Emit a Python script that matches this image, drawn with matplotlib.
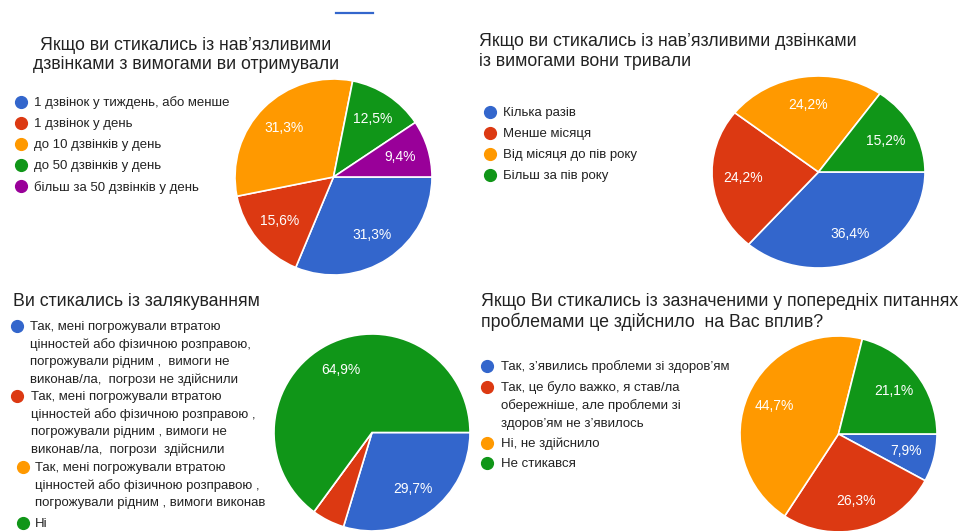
import matplotlib.pyplot as plt
from matplotlib.lines import Line2D

plt.rcParams['font.family'] = ['Liberation Sans', 'DejaVu Sans']

W, H = 968, 531
BLUE, RED, ORANGE, GREEN, PURPLE = '#3366cc', '#dc3912', '#ff9900', '#109618', '#990099'

# chart 1
calls_title = ['Якщо ви стикались із нав’язливими', 'дзвінками з вимогами ви отримували']
calls_labels = ['1 дзвінок у тиждень, або менше', '1 дзвінок у день', 'до 10 дзвінків у день',
                'до 50 дзвінків у день', 'більш за 50 дзвінків у день']
calls_pct = [31.3, 15.6, 31.3, 12.5, 9.4]
calls_colors = [BLUE, RED, ORANGE, GREEN, PURPLE]

# chart 2
dur_title = ['Якщо ви стикались із нав’язливими дзвінками', 'із вимогами вони тривали']
dur_labels = ['Кілька разів', 'Менше місяця', 'Від місяця до пів року', 'Більш за пів року']
dur_pct = [36.4, 24.2, 24.2, 15.2]
dur_colors = [BLUE, RED, ORANGE, GREEN]

# chart 3
threat_title = 'Ви стикались із залякуванням'
threat_labels = [
    ['Так, мені погрожували втратою', 'цінностей або фізичною розправою,',
     'погрожували рідним ,  вимоги не', 'виконав/ла,  погрози не здійснили'],
    ['Так, мені погрожували втратою', 'цінностей або фізичною розправою ,',
     'погрожували рідним , вимоги не', 'виконав/ла,  погрози  здійснили'],
    ['Так, мені погрожували втратою', 'цінностей або фізичною розправою ,',
     'погрожували рідним , вимоги виконав'],
    ['Ні'],
]
threat_pct = [29.7, 5.4, 0.0, 64.9]
threat_colors = [BLUE, RED, ORANGE, GREEN]

# chart 4
impact_title = ['Якщо Ви стикались із зазначеними у попередніх питаннях',
                'проблемами це здійснило  на Вас вплив?']
impact_labels = [
    ['Так, з’явились проблеми зі здоров’ям'],
    ['Так, це було важко, я став/ла', 'обережніше, але проблеми зі', 'здоров’ям не з’явилось'],
    ['Ні, не здійснило'],
    ['Не стикався'],
]
impact_pct = [7.9, 26.3, 44.7, 21.1]
impact_colors = [BLUE, RED, ORANGE, GREEN]

fig = plt.figure(figsize=(W / 100, H / 100), dpi=100)
ov = fig.add_axes([0, 0, 1, 1])
ov.set_xlim(0, W)
ov.set_ylim(H, 0)
ov.axis('off')

TITLE_FS = 12.8
LEG_FS = 9.55
PCT_FS = 10
TXT = '#222222'


def pie(box, pct, colors, min_label=6):
    l, t, r, b = box
    ax = fig.add_axes([l / W, 1 - b / H, (r - l) / W, (b - t) / H])
    labels = iter([f'{p:.1f}%'.replace('.', ',') if p >= min_label else '' for p in pct])
    ax.pie(pct, colors=colors, startangle=0, counterclock=False, radius=1,
           wedgeprops=dict(edgecolor='white', linewidth=1.2),
           autopct=lambda p: next(labels), pctdistance=0.71,
           textprops=dict(color='white', fontsize=PCT_FS))
    ax.set_xlim(-1, 1)
    ax.set_ylim(-1, 1)
    ax.set_aspect('auto')
    return ax


def marker(x, y, c):
    ov.scatter([x], [y], s=72, color=c, zorder=3)


def legend_text(x, y, s):
    ov.text(x, y + 1, s, fontsize=LEG_FS, color=TXT, va='center')


# small cut-off arc at the very top
ov.add_line(Line2D([336, 373], [13, 13], color=BLUE, lw=1.6))

# ---- chart 1
for i, line in enumerate(calls_title):
    ov.text(186, 45 + i * 19.5, line, fontsize=TITLE_FS, color=TXT, ha='center', va='center')
for i, (lab, c) in enumerate(zip(calls_labels, calls_colors)):
    y = 101.5 + i * 21.2
    marker(21, y, c)
    legend_text(34, y, lab)
pie((235, 79, 432, 275), calls_pct, calls_colors)

# ---- chart 2
for i, line in enumerate(dur_title):
    ov.text(479, 42 + i * 20, line, fontsize=TITLE_FS, color=TXT, va='center')
for i, (lab, c) in enumerate(zip(dur_labels, dur_colors)):
    y = 112 + i * 21
    marker(490, y, c)
    legend_text(503, y, lab)
pie((712, 76, 925, 268), dur_pct, dur_colors)

# ---- chart 3
ov.text(13, 301, threat_title, fontsize=TITLE_FS, color=TXT, va='center')
starts = [326, 396, 467, 523]
xs = [(17, 30), (17, 31), (23, 35), (23, 35)]
for lines, c, y0, (mx, tx) in zip(threat_labels, threat_colors, starts, xs):
    marker(mx, y0, c)
    for j, line in enumerate(lines):
        legend_text(tx, y0 + j * 17.5, line)
pie((274, 334, 470, 531), threat_pct, threat_colors)

# ---- chart 4
for i, line in enumerate(impact_title):
    ov.text(481, 301 + i * 21, line, fontsize=TITLE_FS, color=TXT, va='center')
starts = [366, 387, 443, 463]
for lines, c, y0 in zip(impact_labels, impact_colors, starts):
    marker(487, y0, c)
    for j, line in enumerate(lines):
        legend_text(501, y0 + j * 18, line)
pie((740, 336, 937, 532), impact_pct, impact_colors)

fig.savefig('out.png', dpi=100)
